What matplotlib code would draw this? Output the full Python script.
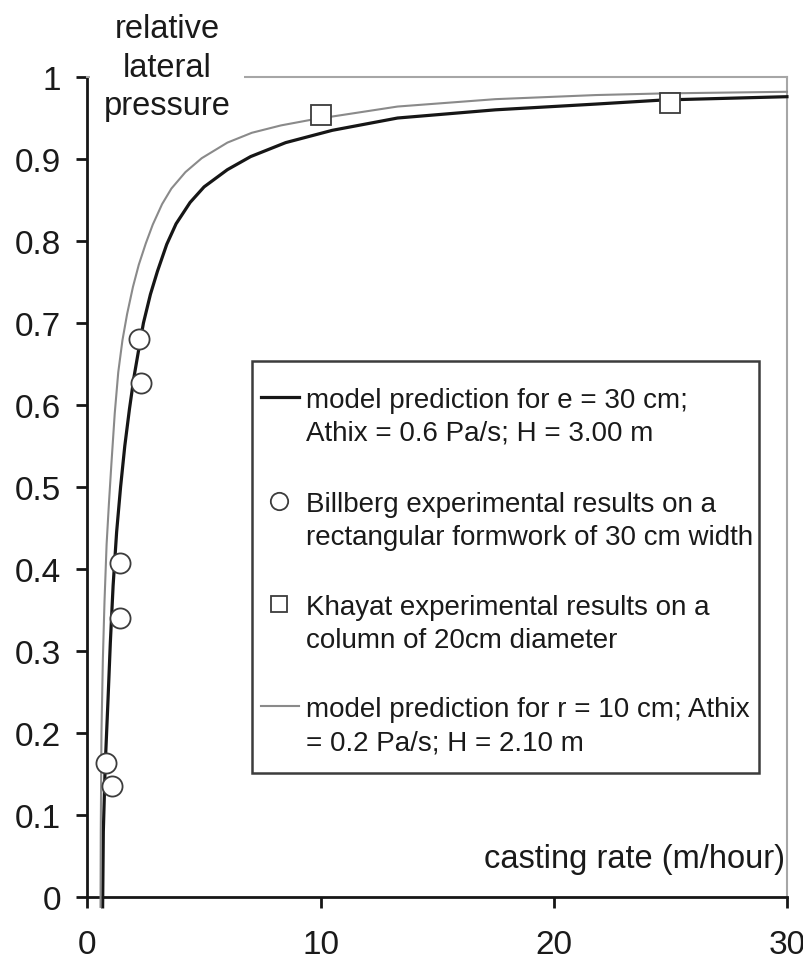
import numpy as np
import matplotlib
matplotlib.use("Agg")
import matplotlib.pyplot as plt
from matplotlib.lines import Line2D
from matplotlib.patches import Rectangle

plt.rcParams['font.family'] = ['Liberation Sans', 'DejaVu Sans']

# model curves, casting rate (m/hour) vs relative lateral pressure
wall_x = [0.65, 0.68, 0.76, 0.88, 0.98, 1.10, 1.25, 1.42, 1.60, 1.80, 2.00, 2.20,
          2.40, 2.70, 3.00, 3.40, 3.80, 4.40, 5.00, 6.00, 7.00, 8.50, 10.5, 13.3,
          17.5, 21.8, 24.7, 30.0]
wall_y = [-0.012, 0.08, 0.16, 0.24, 0.31, 0.38, 0.445, 0.50, 0.55, 0.595, 0.635,
          0.668, 0.700, 0.735, 0.763, 0.796, 0.821, 0.847, 0.866, 0.887, 0.903,
          0.920, 0.935, 0.950, 0.960, 0.967, 0.972, 0.976]

column_x = [0.56, 0.57, 0.60, 0.66, 0.73, 0.82, 0.92, 1.03, 1.17, 1.32, 1.50, 1.70,
            1.95, 2.20, 2.50, 2.80, 3.20, 3.60, 4.20, 4.90, 6.00, 7.05, 8.30, 9.62,
            11.0, 13.3, 17.5, 21.8, 24.7, 30.0]
column_y = [-0.012, 0.08, 0.20, 0.29, 0.36, 0.43, 0.48, 0.53, 0.59, 0.640, 0.679,
            0.711, 0.744, 0.771, 0.797, 0.820, 0.845, 0.864, 0.884, 0.901, 0.920,
            0.932, 0.941, 0.948, 0.954, 0.964, 0.973, 0.978, 0.980, 0.982]

# experimental points
billberg_x = [2.22, 2.28, 1.39, 1.39, 0.79, 1.04]
billberg_y = [0.681, 0.627, 0.407, 0.340, 0.163, 0.136]
khayat_x = [10, 25]
khayat_y = [0.954, 0.968]

x_ticks = [0, 10, 20, 30]
y_ticks = [0, 0.1, 0.2, 0.3, 0.4, 0.5, 0.6, 0.7, 0.8, 0.9, 1]
y_ticklabels = ['0', '0.1', '0.2', '0.3', '0.4', '0.5', '0.6', '0.7', '0.8', '0.9', '1']

legend_labels = [
    ["model prediction for e = 30 cm;", "Athix = 0.6 Pa/s; H = 3.00 m"],
    ["Billberg experimental results on a", "rectangular formwork of 30 cm width"],
    ["Khayat experimental results on a", "column of 20cm diameter"],
    ["model prediction for r = 10 cm; Athix", "= 0.2 Pa/s; H = 2.10 m"],
]

BLACK = '#161616'
GREY = '#8a8a8a'
EDGE = '#3c3c3c'
TEXT = '#1a1a1a'

fig = plt.figure(figsize=(8.04, 9.62), dpi=100)
ax = fig.add_axes([0.1088, 0.0665, 0.870, 0.8524])
ax.set_xlim(0, 30)
ax.set_ylim(0, 1)

ax.plot(wall_x, wall_y, color=BLACK, lw=2.3, clip_on=False, zorder=3)
ax.plot(column_x, column_y, color=GREY, lw=1.5, clip_on=False, zorder=3)
ax.plot(billberg_x, billberg_y, 'o', ms=14.5, mfc='white', mec=EDGE, mew=1.3, zorder=4)
ax.plot(khayat_x, khayat_y, 's', ms=14.5, mfc='white', mec=EDGE, mew=1.3, zorder=4)

for side in ['left', 'bottom']:
    ax.spines[side].set_color(BLACK)
    ax.spines[side].set_linewidth(2)
for side in ['top', 'right']:
    ax.spines[side].set_color('#a6a6a6')
    ax.spines[side].set_linewidth(1.5)

ax.set_xticks(x_ticks)
ax.set_yticks(y_ticks)
ax.set_yticklabels(y_ticklabels)
ax.tick_params(direction='out', length=8, width=2, color=BLACK, labelsize=24,
               labelcolor=TEXT)
ax.tick_params(axis='y', pad=11)
ax.tick_params(axis='x', pad=15)

# axis titles
ax.text(0.1137, 1.012, "relative\nlateral\npressure", transform=ax.transAxes,
        ha='center', va='center', fontsize=23.5, color=TEXT, linespacing=1.32,
        bbox=dict(facecolor='white', edgecolor='none', pad=10), clip_on=False, zorder=6)
ax.text(0.997, 0.0366, "casting rate (m/hour)", transform=ax.transAxes,
        ha='right', va='baseline', fontsize=23.5, color=TEXT)

# legend box, drawn by hand so each symbol sits on the first line of its label
ax.add_patch(Rectangle((0.235, 0.151), 0.725, 0.503, transform=ax.transAxes,
                       facecolor='white', edgecolor=EDGE, lw=1.8, zorder=5))
row_y = [0.6098, 0.4829, 0.3573, 0.2329]
line_gap = 0.0402
handles = [
    dict(xdata=[0.248, 0.3024], color=BLACK, lw=2.3),
    dict(xdata=[0.274], marker='o', ms=12.5, mfc='white', mec=EDGE, mew=1.3, ls='none'),
    dict(xdata=[0.274], marker='s', ms=12, mfc='white', mec=EDGE, mew=1.3, ls='none'),
    dict(xdata=[0.248, 0.3024], color=GREY, lw=1.5),
]
for y0, h, lines in zip(row_y, handles, legend_labels):
    h = dict(h)
    xs = h.pop('xdata')
    ax.add_line(Line2D(xs, [y0] * len(xs), transform=ax.transAxes, zorder=6, **h))
    for k, txt in enumerate(lines):
        ax.text(0.312, y0 - k * line_gap, txt, transform=ax.transAxes,
                ha='left', va='center_baseline', fontsize=20, color=TEXT, zorder=6)

fig.savefig('out.png', dpi=100, facecolor='white')
